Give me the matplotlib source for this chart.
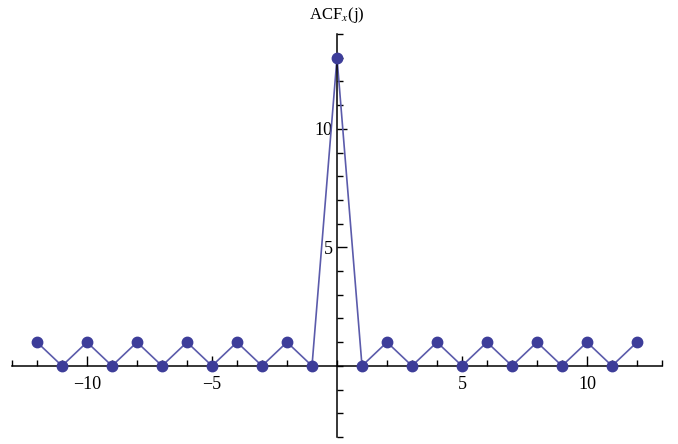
import numpy as np
import matplotlib
matplotlib.use('Agg')
from matplotlib import pyplot as plt
from matplotlib.ticker import MultipleLocator

# lags and autocorrelation values
lags = list(range(-12, 13))
acf = [1, 0, 1, 0, 1, 0, 1, 0, 1, 0, 1, 0, 13, 0, 1, 0, 1, 0, 1, 0, 1, 0, 1, 0, 1]
x_major = [-10, -5, 5, 10]
y_major = [5, 10]

plt.rcParams['font.family'] = ['Liberation Serif', 'DejaVu Serif']
plt.rcParams['mathtext.fontset'] = 'stix'

fig = plt.figure(figsize=(6.78, 4.44), dpi=100)
ax = fig.add_axes([12 / 678, 7 / 444, 650 / 678, 403 / 444])

color = '#3d3d99'
ax.plot(lags, acf, color='#5b5bab', lw=1.2, zorder=2)
ax.plot(lags, acf, 'o', color=color, ms=7.5, zorder=3)

ax.set_xlim(-13, 13)
ax.set_ylim(-3, 14)

for side in ('top', 'right'):
    ax.spines[side].set_visible(False)
ax.spines['left'].set_position(('data', 0))
ax.spines['bottom'].set_position(('data', 0))
for side in ('left', 'bottom'):
    ax.spines[side].set_linewidth(1.1)

ax.set_xticks(x_major)
ax.set_yticks(y_major)
ax.xaxis.set_minor_locator(MultipleLocator(1))
ax.yaxis.set_minor_locator(MultipleLocator(1))
ax.tick_params(which='major', direction='in', length=7, width=1, labelsize=13)
ax.tick_params(which='minor', direction='in', length=4, width=1)
ax.tick_params(axis='x', pad=7)
ax.tick_params(axis='y', pad=3)

ax.text(0, 14.4, r'ACF$_x$(j)', ha='center', va='bottom', fontsize=12,
        clip_on=False)

fig.savefig('out.png', dpi=100)
